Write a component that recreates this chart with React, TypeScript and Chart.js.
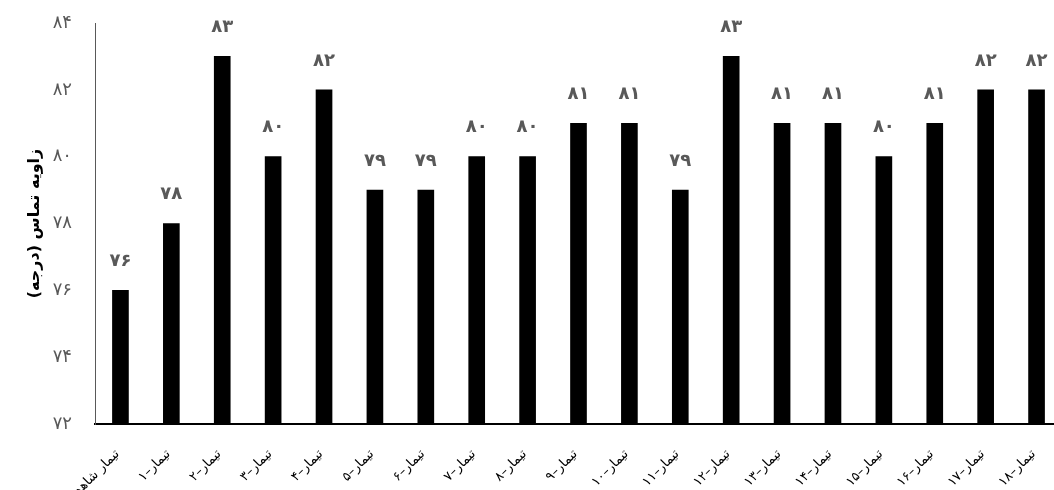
import React, { useEffect, useRef } from "react";
import { Chart, registerables } from "chart.js";

Chart.register(...registerables);

const categories: string[] = [
  "تیمار شاهد",
  "تیمار–۱",
  "تیمار–۲",
  "تیمار–۳",
  "تیمار–۴",
  "تیمار–۵",
  "تیمار–۶",
  "تیمار–۷",
  "تیمار–۸",
  "تیمار–۹",
  "تیمار–۱۰",
  "تیمار–۱۱",
  "تیمار–۱۲",
  "تیمار–۱۳",
  "تیمار–۱۴",
  "تیمار–۱۵",
  "تیمار–۱۶",
  "تیمار–۱۷",
  "تیمار–۱۸",
];

const contactAngle: number[] = [76, 78, 83, 80, 82, 79, 79, 80, 80, 81, 81, 79, 83, 81, 81, 80, 81, 82, 82];

const yTitle = "زاویه تماس (درجه)";
const yMin = 72;
const yMax = 84;
const yStep = 2;

const persianDigits = ["۰", "۱", "۲", "۳", "۴", "۵", "۶", "۷", "۸", "۹"];
const toPersian = (v: number | string) =>
  String(v).replace(/[0-9]/g, (d) => persianDigits[Number(d)]);

const FONT = "'DejaVu Sans', sans-serif";

const dataLabelPlugin = {
  id: "barValueLabels",
  afterDatasetsDraw(chart: any) {
    const ctx = chart.ctx;
    const meta = chart.getDatasetMeta(0);
    ctx.save();
    ctx.font = `bold 18px ${FONT}`;
    ctx.fillStyle = "#595959";
    ctx.textAlign = "center";
    ctx.textBaseline = "middle";
    meta.data.forEach((bar: any, i: number) => {
      const v = chart.data.datasets[0].data[i];
      ctx.fillText(toPersian(v), bar.x, bar.y - 29);
    });
    ctx.restore();
  },
};

// Rotated category labels drawn at the x scale's own tick positions
const xLabelPlugin = {
  id: "rotatedCategoryLabels",
  afterDraw(chart: any) {
    const ctx = chart.ctx;
    const xScale = chart.scales.x;
    const labels = chart.data.labels as string[];
    ctx.save();
    ctx.font = `13px ${FONT}`;
    ctx.fillStyle = "#000000";
    ctx.textAlign = "right";
    ctx.textBaseline = "middle";
    labels.forEach((lbl, i) => {
      const x = xScale.getPixelForTick(i) - 3;
      const y = xScale.top + 28;
      ctx.save();
      ctx.translate(x, y);
      ctx.rotate(-Math.PI / 4);
      ctx.fillText(lbl, 0, 0);
      ctx.restore();
    });
    ctx.restore();
  },
};

export default function App() {
  const canvasRef = useRef<HTMLCanvasElement | null>(null);

  useEffect(() => {
    if (!canvasRef.current) return;
    const chart = new Chart(canvasRef.current, {
      type: "bar",
      data: {
        labels: categories,
        datasets: [
          {
            data: contactAngle,
            backgroundColor: "#000000",
            borderWidth: 0,
            barThickness: 16,
          },
        ],
      },
      options: {
        animation: false,
        responsive: true,
        maintainAspectRatio: false,
        layout: { padding: { top: 23, right: 0, bottom: 0, left: 0 } },
        plugins: {
          legend: { display: false },
          tooltip: { enabled: false },
        },
        scales: {
          x: {
            offset: true,
            grid: { display: false, drawTicks: false },
            border: { display: true, color: "#000000", width: 2 },
            ticks: { display: false, autoSkip: false },
            afterFit: (scale: any) => {
              scale.height = 66;
              scale.paddingLeft = 0;
              scale.paddingRight = 0;
            },
          },
          y: {
            min: yMin,
            max: yMax,
            grid: { display: false, drawTicks: false },
            border: { display: true, color: "#595959", width: 1 },
            ticks: {
              stepSize: yStep,
              padding: 23,
              color: "#595959",
              font: { family: FONT, size: 18 },
              callback: (v: any) => toPersian(v),
            },
            title: {
              display: true,
              text: yTitle,
              color: "#000000",
              font: { family: FONT, size: 16, weight: "bold" },
              padding: { top: 25, bottom: 4 },
            },
            afterFit: (scale: any) => {
              scale.width = 95;
              scale.paddingTop = 0;
              scale.paddingBottom = 0;
            },
          },
        },
      },
      plugins: [dataLabelPlugin, xLabelPlugin],
    });
    return () => chart.destroy();
  }, []);

  return (
    <div
      style={{
        position: "fixed",
        left: 0,
        top: 0,
        width: 1054,
        height: 490,
        overflow: "hidden",
        background: "#ffffff",
      }}
    >
      <div style={{ position: "relative", width: 1062, height: 490 }}>
        <canvas ref={canvasRef} />
      </div>
    </div>
  );
}
